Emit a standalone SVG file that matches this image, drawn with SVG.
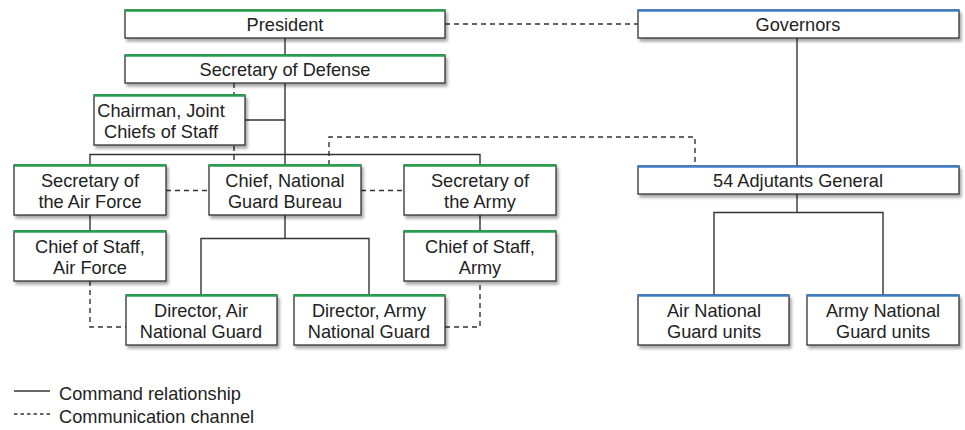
<svg xmlns="http://www.w3.org/2000/svg" width="965" height="430" viewBox="0 0 965 430">
<defs>
<filter id="sh" x="-10%" y="-20%" width="130%" height="160%">
<feGaussianBlur in="SourceAlpha" stdDeviation="1.5"/>
<feOffset dx="2" dy="2.5" result="b"/>
<feComponentTransfer><feFuncA type="linear" slope="0.35"/></feComponentTransfer>
<feMerge><feMergeNode/><feMergeNode in="SourceGraphic"/></feMerge>
</filter>
</defs>
<style>
.box{fill:#fff;stroke:#333;stroke-width:1.3;filter:url(#sh)}
.g{stroke:#22a04b;stroke-width:2.5}
.b{stroke:#3d7cc4;stroke-width:2.5}
text{font-family:"Liberation Sans",Arial,sans-serif;font-size:18.2px;fill:#222;text-anchor:middle}
.ln{fill:none;stroke:#333;stroke-width:1.4}
.dl{fill:none;stroke:#333;stroke-width:1.4;stroke-dasharray:5 4}
</style>
<rect width="965" height="430" fill="#fff"/>
<g id="connectors">
<path class="dl" d="M445 24H638"/>
<path class="ln" d="M285 38V55"/>
<path class="ln" d="M285 83V165M245 120H285M90 165V154.5H480V165"/>
<path class="dl" d="M234 83V165"/>
<path class="dl" d="M329 165V137H695V166"/>
<path class="dl" d="M166 190.5H209M361 190.5H404"/>
<path class="ln" d="M90 215V231M480 215V231"/>
<path class="ln" d="M285 215V238.5H201V295M285 238.5H369V295"/>
<path class="dl" d="M90 281V327H126M445 327H480V281"/>
<path class="ln" d="M797 38V166"/>
<path class="ln" d="M797 194V212.5H714V295M797 212.5H883V295"/>
</g>
<g id="president"><rect class="box" x="125" y="10" width="320" height="28"/><path class="g" d="M125 10.5H445"/><text x="285" y="30.5">President</text></g>
<g id="secdef"><rect class="box" x="125" y="55" width="320" height="28"/><path class="g" d="M125 55.5H445"/><text x="285" y="75.5">Secretary of Defense</text></g>
<g id="cjcs"><rect class="box" x="94" y="95" width="151" height="50"/><path class="g" d="M94 95.5H245"/><text x="161" y="116.5">Chairman, Joint</text><text x="161" y="137.5">Chiefs of Staff</text></g>
<g id="secaf"><rect class="box" x="14" y="165" width="152" height="50"/><path class="g" d="M14 165.5H166"/><text x="90" y="186.5">Secretary of</text><text x="90" y="207.5">the Air Force</text></g>
<g id="cngb"><rect class="box" x="209" y="165" width="152" height="50"/><path class="g" d="M209 165.5H361"/><text x="285" y="186.5">Chief, National</text><text x="285" y="207.5">Guard Bureau</text></g>
<g id="secarmy"><rect class="box" x="404" y="165" width="152" height="50"/><path class="g" d="M404 165.5H556"/><text x="480" y="186.5">Secretary of</text><text x="480" y="207.5">the Army</text></g>
<g id="csaf"><rect class="box" x="14" y="231" width="152" height="50"/><path class="g" d="M14 231.5H166"/><text x="90" y="252.5">Chief of Staff,</text><text x="90" y="273.5">Air Force</text></g>
<g id="csa"><rect class="box" x="404" y="231" width="152" height="50"/><path class="g" d="M404 231.5H556"/><text x="480" y="252.5">Chief of Staff,</text><text x="480" y="273.5">Army</text></g>
<g id="dang"><rect class="box" x="126" y="295" width="151" height="50"/><path class="g" d="M126 295.5H277"/><text x="201" y="316.5">Director, Air</text><text x="201" y="337.5">National Guard</text></g>
<g id="darng"><rect class="box" x="294" y="295" width="151" height="50"/><path class="g" d="M294 295.5H445"/><text x="369" y="316.5">Director, Army</text><text x="369" y="337.5">National Guard</text></g>
<g id="governors"><rect class="box" x="638" y="10" width="321" height="28"/><path class="b" d="M638 10.5H959"/><text x="798" y="30.5">Governors</text></g>
<g id="tag"><rect class="box" x="638" y="166" width="321" height="28"/><path class="b" d="M638 166.5H959"/><text x="798" y="186.5">54 Adjutants General</text></g>
<g id="angunits"><rect class="box" x="638" y="295" width="151" height="50"/><path class="b" d="M638 295.5H789"/><text x="714" y="316.5">Air National</text><text x="714" y="337.5">Guard units</text></g>
<g id="arngunits"><rect class="box" x="807" y="295" width="152" height="50"/><path class="b" d="M807 295.5H959"/><text x="883" y="316.5">Army National</text><text x="883" y="337.5">Guard units</text></g>
<g id="legend">
<path class="ln" d="M14 391H50"/>
<text x="59" y="399.5" style="text-anchor:start">Command relationship</text>
<path class="dl" d="M14 414H50" style="stroke-dasharray:3.5 3"/>
<text x="59" y="422.5" style="text-anchor:start">Communication channel</text>
</g>
</svg>
